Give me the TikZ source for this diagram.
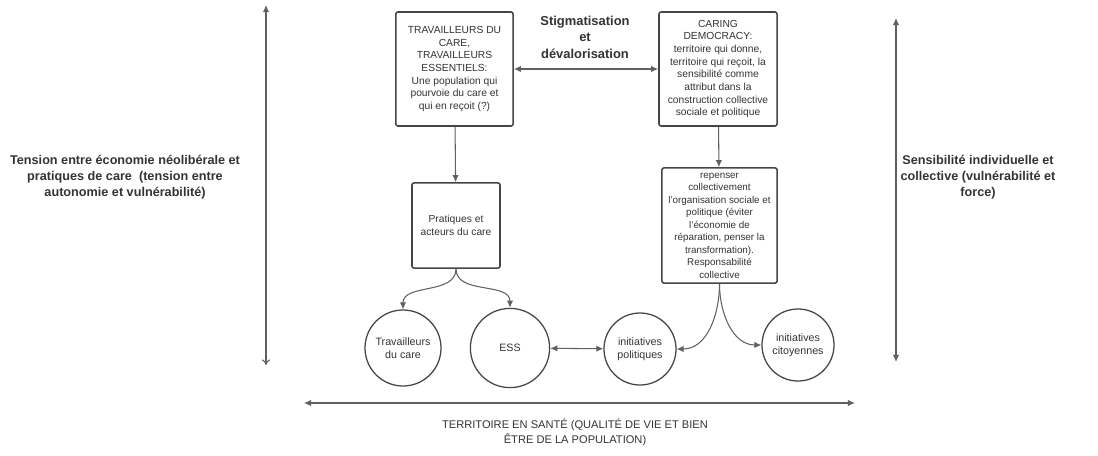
\documentclass[tikz,border=0pt]{standalone}
\usepackage{fontspec}
\setmainfont{Liberation Sans}
\usetikzlibrary{arrows.meta}
\definecolor{linegray}{HTML}{606060}
\definecolor{boxgray}{HTML}{454545}
\definecolor{textgray}{HTML}{333333}
\tikzset{
  box/.style={draw=boxgray, line width=1.1pt, rounded corners=1.5pt, align=center,
    text=textgray, font=\fontsize{7.3}{9}\selectfont, inner sep=1pt},
  bubble/.style={draw=boxgray, line width=0.9pt, circle, align=center,
    text=textgray, font=\fontsize{7.6}{9.2}\selectfont, inner sep=0pt},
  sidelabel/.style={align=center, text=textgray, font=\fontsize{9}{11.4}\selectfont\bfseries},
  conn/.style={draw=linegray, line width=0.75pt, -{Latex[length=5pt,width=4.5pt]}},
  biconn/.style={draw=linegray, line width=0.75pt, {Latex[length=5pt,width=4.5pt]}-{Latex[length=5pt,width=4.5pt]}}
}
\begin{document}
\begin{tikzpicture}[x=0.025cm,y=-0.025cm]
  \useasboundingbox (0,0) rectangle (1098,455);
  % boxes
  \node[box, minimum width=2.93cm, minimum height=2.85cm] (tc) at (454.5,69)
    {TRAVAILLEURS DU\\CARE,\\TRAVAILLEURS\\ESSENTIELS:\\Une population qui\\pourvoie du care et\\qui en reçoit (?)};
  \node[box, minimum width=2.95cm, minimum height=2.85cm] (cd) at (718,69)
    {CARING\\DEMOCRACY:\\territoire qui donne,\\territoire qui reçoit, la\\sensibilité comme\\attribut dans la\\construction collective\\sociale et politique};
  \node[box, minimum width=2.2cm, minimum height=2.13cm] (prat) at (456,225.5)
    {Pratiques et\\acteurs du care};
  \node[box, minimum width=2.88cm, minimum height=2.88cm, font=\fontsize{7}{8.9}\selectfont] (rep) at (719.5,225.5)
    {repenser\\collectivement\\l'organisation sociale et\\politique (éviter\\l'économie de\\réparation, penser la\\transformation).\\Responsabilité\\collective};
  % circles
  \node[bubble, minimum size=1.9cm] (trav) at (403,348) {Travailleurs\\du care};
  \node[bubble, minimum size=1.98cm] (ess) at (510,348) {ESS};
  \node[bubble, minimum size=1.8cm] (ipol) at (640,349) {initiatives\\politiques};
  \node[bubble, minimum size=1.8cm] (icit) at (798,345) {initiatives\\citoyennes};
  % labels
  \node[sidelabel, font=\fontsize{9.2}{11.7}\selectfont\bfseries] (stig) at (585,37) {Stigmatisation\\et\\dévalorisation};
  \node[sidelabel] (tension) at (125,177)
    {Tension entre économie néolibérale et\\pratiques de care\ \ (tension entre\\autonomie et vulnérabilité)};
  \node[sidelabel] (sensib) at (978,177)
    {Sensibilité individuelle et\\collective (vulnérabilité et\\force)};
  \node[align=center, text=textgray, font=\fontsize{7.9}{10.7}\selectfont] (terr) at (575,432)
    {TERRITOIRE EN SANTÉ (QUALITÉ DE VIE ET BIEN\\ÊTRE DE LA POPULATION)};
  % axes
  \coordinate (ltop) at (266,5);
  \coordinate (lbot) at (266,365);
  \coordinate (rtop) at (896,18);
  \coordinate (rbot) at (896,362);
  \coordinate (bleft) at (304,403);
  \coordinate (bright) at (855,403);
  \begin{scope}
    \draw[draw=linegray, line width=0.75pt, {Latex[length=5pt,width=4.5pt]}-{To[length=4pt,width=6pt]}] (ltop) -- (lbot);
    \draw[biconn] (rtop) -- (rbot);
    \draw[biconn] (bleft) -- (bright);
    \draw[biconn] (tc) -- (cd);
    \draw[conn] (tc) -- (prat);
    \draw[conn] (cd) -- (rep);
    \draw[conn] (prat.south) to[out=-90,in=90] (trav.north);
    \draw[conn] (prat.south) to[out=-90,in=90] (ess.north);
    \draw[conn] (rep.south) to[out=-90,in=0] (ipol.east);
    \draw[conn] (rep.south) to[out=-90,in=180] (icit.west);
    \draw[biconn] (ess) -- (ipol);
  \end{scope}
\end{tikzpicture}
\end{document}
